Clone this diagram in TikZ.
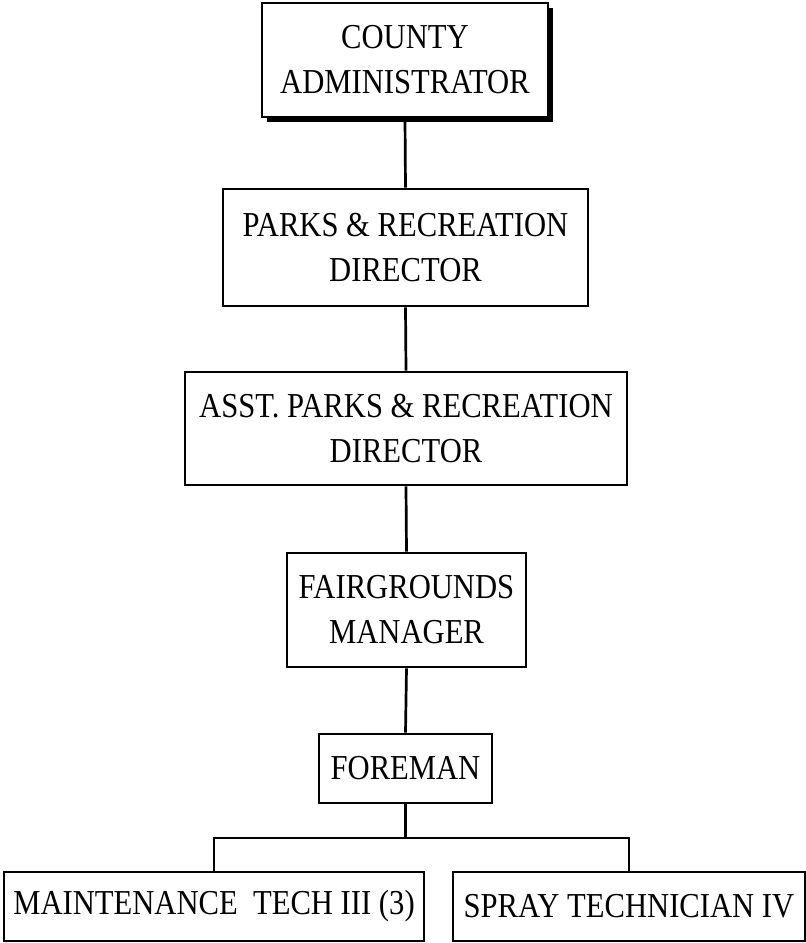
\documentclass[tikz,border=0pt]{standalone}
\usepackage{fontspec}
\setmainfont{Liberation Serif}[FakeStretch=0.875]
\usetikzlibrary{shadows}
\begin{document}
\begin{tikzpicture}[x=1pt,y=-1pt,
  post/.style={draw=black, line width=2.9pt, fill=white, inner sep=0pt,
    align=center, font=\fontsize{35}{45}\selectfont},
  link/.style={draw=black, line width=2.7pt}]
\useasboundingbox (0,0) rectangle (806,943);

\node[post, minimum width=286pt, minimum height=114pt,
  drop shadow={fill=black, opacity=1, shadow xshift=4.5pt, shadow yshift=-4.5pt}]
  (admin) at (405,60) {COUNTY\\ADMINISTRATOR};
\node[post, minimum width=365pt, minimum height=117pt]
  (dir) at (405.5,247.5) {PARKS \& RECREATION\\DIRECTOR};
\node[post, minimum width=442pt, minimum height=113pt]
  (asst) at (406,428.5) {ASST. PARKS \& RECREATION\\DIRECTOR};
\node[post, minimum width=239pt, minimum height=114pt]
  (fair) at (406.5,610) {FAIRGROUNDS\\MANAGER};
\node[post, minimum width=173pt, minimum height=69pt]
  (fore) at (405.5,768.5) {FOREMAN};
\node[post, minimum width=420pt, minimum height=69pt]
  (mt) at (214,906.5) {MAINTENANCE\ \ TECH III (3)};
\node[post, minimum width=352pt, minimum height=69pt]
  (spray) at (629,906.5) {SPRAY TECHNICIAN IV};

\coordinate (bar) at (406,838);

\draw[link] (admin.south) -- (dir.north);
\draw[link] (dir.south) -- (asst.north);
\draw[link] (asst.south) -- (fair.north);
\draw[link] (fair.south) -- (fore.north);
\draw[link] (fore.south) -- (fore.south |- bar);
\draw[link] (mt.north) -- (mt.north |- bar) -- (spray.north |- bar) -- (spray.north);
\end{tikzpicture}
\end{document}
